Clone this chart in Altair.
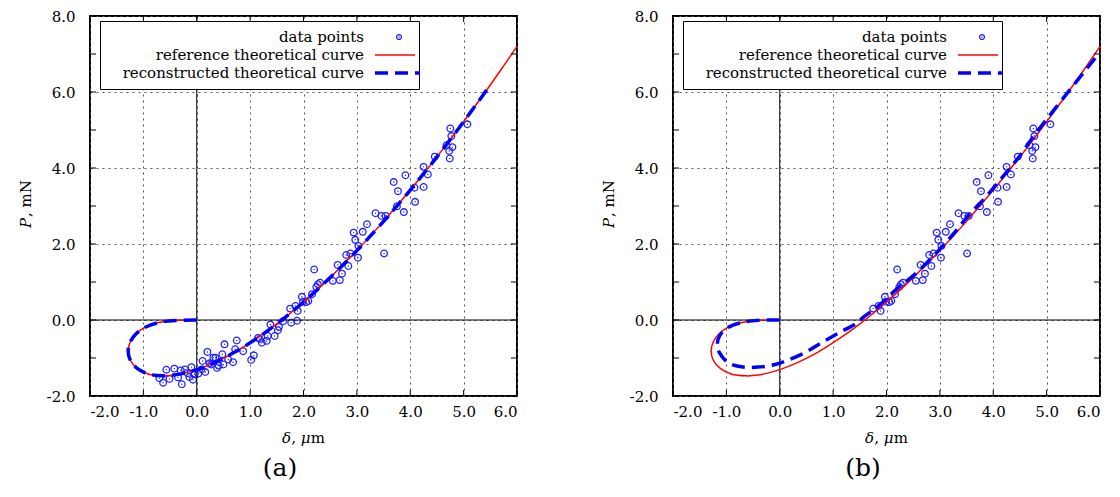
import altair as alt
import pandas as pd

# ---------------- data ----------------
# measured data points (delta in um, P in mN)
pts_d = [-0.70, -0.63, -0.57, -0.51, -0.42, -0.35, -0.30, -0.28, -0.22, -0.17,
         -0.14, -0.10, -0.07, -0.04, 0.03, 0.09, 0.11, 0.16, 0.20, 0.24,
         0.27, 0.31, 0.35, 0.38, 0.41, 0.48, 0.52, 0.50, 0.59, 0.68,
         0.72, 0.75, 0.87, 1.02, 1.07, 1.15, 1.18, 1.22, 1.31, 1.33,
         1.38, 1.46, 1.52, 1.54, 1.62, 1.77, 1.88,
         1.75, 1.85, 1.89, 1.97, 1.99, 2.05, 2.09, 2.16, 2.20, 2.24,
         2.27, 2.31, 2.55, 2.64, 2.68, 2.72, 2.80, 2.84, 2.88, 2.94,
         2.97, 3.02, 3.03, 3.11, 3.19, 3.35, 3.46, 3.51, 3.54, 3.69,
         3.77, 3.75, 3.88, 3.91, 4.08, 4.09, 4.25, 4.25, 4.33, 4.46,
         4.68, 4.75, 4.77, 4.79, 4.73, 4.74, 5.07]
pts_P = [-1.53, -1.65, -1.31, -1.55, -1.28, -1.51, -1.33, -1.69, -1.30, -1.40,
         -1.50, -1.24, -1.57, -1.43, -1.41, -1.30, -1.08, -1.37, -0.84, -1.14,
         -1.17, -0.99, -0.99, -1.26, -1.20, -0.90, -0.64, -1.17, -1.04, -1.11,
         -0.77, -0.54, -0.82, -1.05, -0.93, -0.47, -0.50, -0.60, -0.55, -0.42,
         -0.12, -0.42, -0.27, -0.18, -0.03, -0.07, -0.02,
         0.30, 0.37, 0.24, 0.61, 0.48, 0.47, 0.50, 0.68, 1.33, 0.87,
         0.94, 0.98, 1.03, 1.45, 1.05, 1.22, 1.71, 1.42, 1.75, 2.30,
         2.11, 1.64, 1.95, 2.32, 2.52, 2.81, 2.74, 1.75, 2.74, 3.63,
         3.39, 2.99, 2.84, 3.81, 3.48, 3.11, 4.03, 3.50, 3.83, 4.30,
         4.60, 5.04, 4.84, 4.55, 4.45, 4.25, 5.15]

# reference theoretical curve (in drawing order)
ref_d = [0.000, -0.334, -0.525, -0.734, -0.990, -1.140, -1.235, -1.285, -1.245,
         -1.115, -0.910, -0.632, -0.506, -0.249, 0.040, 0.362, 0.716, 1.102,
         1.520, 1.969, 2.450, 2.961, 3.504, 4.077, 4.681, 5.315, 5.644, 6.000]
ref_P = [0.000, -0.007, -0.027, -0.075, -0.207, -0.368, -0.545, -0.800, -1.060,
         -1.275, -1.420, -1.470, -1.462, -1.405, -1.287, -1.102, -0.844, -0.506,
         -0.082, 0.435, 1.050, 1.771, 2.602, 3.550, 4.622, 5.824, 6.474, 7.200]

# reconstructed theoretical curve, panel (a)
reca_d = [0.000, -0.334, -0.525, -0.734, -0.990, -1.140, -1.235, -1.285, -1.245,
          -1.115, -0.910, -0.632, -0.506, -0.249, 0.040, 0.362, 0.716, 1.102,
          1.520, 1.969, 2.450, 2.961, 3.504, 4.077, 4.681, 5.315, 5.480]
reca_P = [0.000, -0.007, -0.027, -0.075, -0.207, -0.368, -0.545, -0.800, -1.060,
          -1.275, -1.420, -1.470, -1.462, -1.405, -1.287, -1.102, -0.844, -0.506,
          -0.082, 0.435, 1.050, 1.771, 2.602, 3.550, 4.622, 5.824, 6.150]

# reconstructed theoretical curve, panel (b)
recb_d = [0.00, -0.41, -0.72, -0.97, -1.12, -1.17, -1.13, -0.97, -0.72, -0.41,
          -0.09, 0.16, 0.47, 0.78, 1.12, 1.41, 1.59, 1.85, 2.22, 2.53, 2.91,
          3.22, 3.53, 3.85, 4.16, 4.47, 4.78, 5.19, 5.93]
recb_P = [0.00, -0.01, -0.07, -0.20, -0.40, -0.64, -0.86, -1.12, -1.23, -1.24,
          -1.17, -1.05, -0.86, -0.60, -0.33, -0.11, 0.10, 0.37, 0.85, 1.20, 1.73,
          2.21, 2.74, 3.22, 3.74, 4.27, 4.88, 5.62, 6.93]

x_ticks = [-2, -1, 0, 1, 2, 3, 4, 5, 6]
y_ticks = [-2, -1, 0, 1, 2, 3, 4, 5, 6, 7, 8]
legend_labels = ["data points", "reference theoretical curve",
                 "reconstructed theoretical curve"]
panel_labels = ["(a)", "(b)"]
# axis titles split into (text, italic) pieces
x_title = [("δ", True), (", ", False), ("μ", True), ("m", False)]
y_title_italic = "P"
y_title_rest = ", mN"

# ---------------- styling ----------------
FONT = "DejaVu Serif"
FS = 15
W, H = 427, 380
BLUE = "#0000ff"
PT_BLUE = "#2020ff"
RED = "#ff0000"
DASH = [13, 7]

LBL = "(datum.value < 0 ? '-' : '') + format(abs(datum.value), '.1f')"
xs = alt.Scale(domain=[-2, 6], nice=False, zero=False)
ys = alt.Scale(domain=[-2, 8], nice=False, zero=False)
xaxis = alt.Axis(values=x_ticks, labelExpr=LBL, title=None, labelPadding=8,
                 labelOverlap=False)
yaxis = alt.Axis(values=y_ticks, labelExpr=LBL, title=None, labelPadding=15,
                 labelOverlap=False)

# approximate advance widths (px) of the x-title pieces
x_piece_w = [9.2, 9.5, 9.9, 14.2]


def curve_df(d, p):
    return pd.DataFrame({"d": d, "P": p, "i": list(range(len(d)))})


def one():
    return pd.DataFrame({"a": [0]})


def txt(s, x, y, **kw):
    return alt.Chart(pd.DataFrame({"t": [s]})).mark_text(
        font=FONT, color="black", **kw).encode(
        x=alt.value(x), y=alt.value(y), text="t:N")


def panel(rec_d, rec_P, pts, label):
    zero_v = alt.Chart(one()).mark_rule(color="black", strokeWidth=1).encode(
        x=alt.datum(0))
    zero_h = alt.Chart(one()).mark_rule(color="black", strokeWidth=1).encode(
        y=alt.datum(0))
    points = alt.Chart(pts).mark_point(shape="circle", filled=False, size=44,
                                       strokeWidth=1.3, color=PT_BLUE,
                                       opacity=1).encode(
        x=alt.X("d:Q", scale=xs, axis=xaxis),
        y=alt.Y("P:Q", scale=ys, axis=yaxis))
    dots = alt.Chart(pts).mark_circle(size=2, color=PT_BLUE, opacity=1).encode(
        x="d:Q", y="P:Q")
    ref = alt.Chart(curve_df(ref_d, ref_P)).mark_line(
        color=RED, strokeWidth=1.5, interpolate="catmull-rom").encode(
        x="d:Q", y="P:Q", order="i:Q")
    rec = alt.Chart(curve_df(rec_d, rec_P)).mark_line(
        color=BLUE, strokeWidth=3.5, strokeDash=DASH,
        interpolate="catmull-rom").encode(x="d:Q", y="P:Q", order="i:Q")

    tx = pd.DataFrame({"v": x_ticks})
    ty = pd.DataFrame({"v": y_ticks})
    tk = dict(color="black", strokeWidth=1)
    t_top = alt.Chart(tx).mark_rule(**tk).encode(
        x="v:Q", y=alt.value(0), y2=alt.value(6))
    t_bot = alt.Chart(tx).mark_rule(**tk).encode(
        x="v:Q", y=alt.value(H), y2=alt.value(H - 6))
    t_lft = alt.Chart(ty).mark_rule(**tk).encode(
        y="v:Q", x=alt.value(0), x2=alt.value(6))
    t_rgt = alt.Chart(ty).mark_rule(**tk).encode(
        y="v:Q", x=alt.value(W), x2=alt.value(W - 6))

    box = alt.Chart(one()).mark_rect(fill="white", stroke="black",
                                     strokeWidth=1).encode(
        x=alt.value(10.5), x2=alt.value(329.5), y=alt.value(5.5),
        y2=alt.value(73.5))
    rows = [21, 39, 57]
    texts = [txt(t, 274, r, align="right", baseline="middle", fontSize=FS)
             for t, r in zip(legend_labels, rows)]
    lg_pt = alt.Chart(one()).mark_point(shape="circle", filled=False, size=24,
                                        strokeWidth=1.2, color=PT_BLUE,
                                        opacity=1).encode(
        x=alt.value(309), y=alt.value(rows[0]))
    lg_dot = alt.Chart(one()).mark_circle(size=2, color=PT_BLUE, opacity=1).encode(
        x=alt.value(309), y=alt.value(rows[0]))
    lg_red = alt.Chart(one()).mark_rule(color=RED, strokeWidth=1.5).encode(
        x=alt.value(285), x2=alt.value(325), y=alt.value(rows[1]))
    lg_blue = alt.Chart(one()).mark_rule(color=BLUE, strokeWidth=3.5,
                                         strokeDash=DASH).encode(
        x=alt.value(285), x2=alt.value(330), y=alt.value(rows[2]))
    lab = txt(label, 190, 452, fontSize=25, baseline="middle", align="center")

    # axis titles with mixed italic / upright pieces
    xt = []
    x0 = W / 2 - sum(x_piece_w) / 2
    for (s, it), w in zip(x_title, x_piece_w):
        kw = dict(align="left", baseline="middle", fontSize=FS)
        if it:
            kw["fontStyle"] = "italic"
        xt.append(txt(s, x0, 422, **kw))
        x0 += w
    yt1 = txt(y_title_italic, -64.5, 202, angle=270, align="right",
              baseline="middle", fontSize=FS, fontStyle="italic")
    yt2 = txt(y_title_rest, -64.5, 201, angle=270, align="left",
              baseline="middle", fontSize=FS)

    return alt.layer(points, zero_v, zero_h, dots, ref, rec, t_top, t_bot,
                     t_lft, t_rgt, box, *texts, lg_pt, lg_dot, lg_red,
                     lg_blue, lab, *xt, yt1, yt2).properties(width=W, height=H)


pts_all = pd.DataFrame({"d": pts_d, "P": pts_P})
pts_b = pts_all[pts_all["P"] > 0.2]

pa = panel(reca_d, reca_P, pts_all, panel_labels[0])
pb = panel(recb_d, recb_P, pts_b, panel_labels[1])

chart = alt.hconcat(pa, pb, spacing=156, bounds="flush").configure_view(
    stroke="black", strokeWidth=2
).configure_axis(
    labelFont=FONT, labelFontSize=FS, labelColor="black",
    grid=True, gridDash=[2, 4], gridColor="#555555",
    gridWidth=1, domain=False, ticks=False
).properties(padding={"left": 9, "top": 0, "right": 5, "bottom": 5},
             background="white")

chart.save("out.html", embed_options={"renderer": "svg", "actions": False})
